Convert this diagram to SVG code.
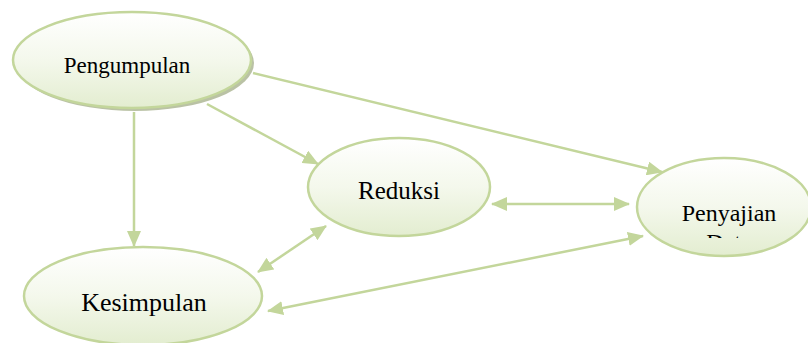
<svg xmlns="http://www.w3.org/2000/svg" width="808" height="343" viewBox="0 0 808 343">
<style>
.node{fill:url(#g);stroke:#c3d69b;stroke-width:2.5}
.lbl{fill:#000;text-anchor:middle}
.c{stroke:#c3d69b;stroke-width:2.5;fill:none}
</style>
<defs>
<linearGradient id="g" x1="0" y1="0" x2="0" y2="1">
<stop offset="0" stop-color="#ffffff"/>
<stop offset="0.5" stop-color="#f4f8ec"/>
<stop offset="1" stop-color="#e3edd0"/>
</linearGradient>
<marker id="ae" viewBox="0 0 16 14" refX="15" refY="7" markerWidth="16" markerHeight="14" markerUnits="userSpaceOnUse" orient="auto">
<path d="M0,0 L16,7 L0,14 Z" fill="#c3d69b"/>
</marker>
<marker id="as" viewBox="0 0 16 14" refX="1" refY="7" markerWidth="16" markerHeight="14" markerUnits="userSpaceOnUse" orient="auto">
<path d="M16,0 L0,7 L16,14 Z" fill="#c3d69b"/>
</marker>
<clipPath id="pc"><rect x="600" y="150" width="208" height="88"/></clipPath>
</defs>
<g id="connectors">
<line class="c" x1="134" y1="112" x2="134" y2="246" marker-end="url(#ae)"/>
<line class="c" x1="207" y1="104" x2="318" y2="164" marker-end="url(#ae)"/>
<line class="c" x1="253" y1="73" x2="662" y2="172" marker-end="url(#ae)"/>
<line class="c" x1="492" y1="204" x2="629" y2="204" marker-start="url(#as)" marker-end="url(#ae)"/>
<line class="c" x1="258" y1="272" x2="326" y2="226" marker-start="url(#as)" marker-end="url(#ae)"/>
<line class="c" x1="268" y1="311" x2="643" y2="236" marker-start="url(#as)" marker-end="url(#ae)"/>
</g>
<g id="pengumpulan">
<ellipse cx="135" cy="63" rx="119" ry="48" fill="#a9b38f" opacity="0.8"/>
<ellipse class="node" cx="132" cy="60" rx="119" ry="48"/>
<text class="lbl" x="127" y="73" font-family="'Liberation Serif','Times New Roman',serif" font-size="23">Pengumpulan</text>
</g>
<g id="reduksi">
<ellipse class="node" cx="399" cy="187" rx="91" ry="49"/>
<text class="lbl" x="399" y="199" font-family="'Liberation Serif','Times New Roman',serif" font-size="25">Reduksi</text>
</g>
<g id="penyajian">
<ellipse class="node" cx="724" cy="207" rx="87" ry="49"/>
<g clip-path="url(#pc)" font-family="'Liberation Serif','Times New Roman',serif" font-size="24">
<text class="lbl" x="729" y="221">Penyajian</text>
<text class="lbl" x="729" y="250">Data</text>
</g>
</g>
<g id="kesimpulan">
<ellipse class="node" cx="143" cy="296" rx="119" ry="49"/>
<text class="lbl" x="144" y="311" font-family="'Liberation Serif','Times New Roman',serif" font-size="26">Kesimpulan</text>
</g>
</svg>
